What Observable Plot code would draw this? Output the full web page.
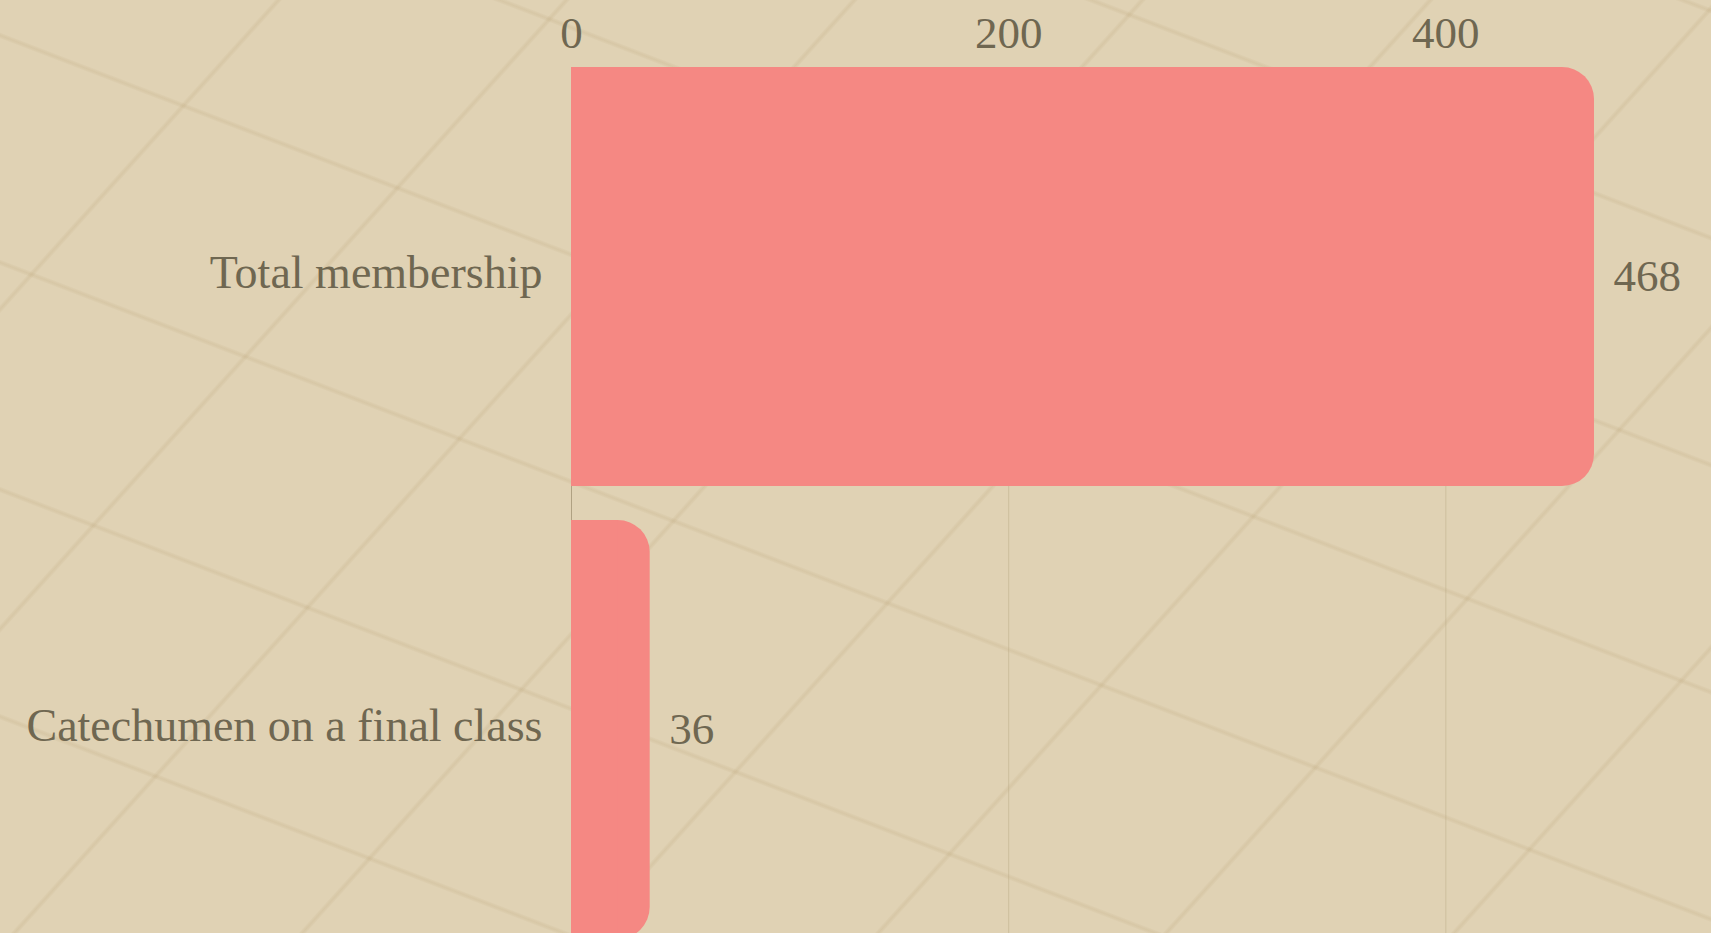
<!DOCTYPE html>
<html>
<head>
<meta charset="utf-8">
<script src="https://cdn.jsdelivr.net/npm/d3@7"></script>
<script src="https://cdn.jsdelivr.net/npm/@observablehq/plot@0.6"></script>
<style>
  html, body { margin: 0; padding: 0; overflow: hidden; }
  body {
    width: 1711px; height: 933px;
    background-color: #e0d2b4;
    background-image:
      repeating-linear-gradient(21deg, transparent 0px, transparent 199px, rgba(185,162,118,0.10) 200px, rgba(185,162,118,0.22) 202px, rgba(185,162,118,0.10) 204px, transparent 205px, transparent 212px),
      repeating-linear-gradient(132deg, transparent 0px, transparent 204px, rgba(185,162,118,0.10) 205px, rgba(185,162,118,0.22) 207px, rgba(185,162,118,0.10) 209px, transparent 210px, transparent 214px);
  }
  #chart svg { display: block; }
</style>
</head>
<body>
<div id="chart"></div>
<script>
const categories = ["Total membership", "Catechumen on a final class"];
const values = [468, 36];
const xTicks = [0, 200, 400];

const data = categories.map((c, i) => ({category: c, value: values[i]}));

const textColor = "#6f6751";
const barColor = "#f58883";

const chart = Plot.plot({
  width: 1711,
  height: 933,
  marginLeft: 571,
  marginRight: 117,
  marginTop: 67,
  marginBottom: -6,
  style: {
    background: "transparent",
    fontFamily: "'Liberation Serif', serif",
    fontSize: "46px",
    color: textColor
  },
  x: {domain: [0, 468], nice: false},
  y: {domain: categories, paddingInner: 0.076, paddingOuter: 0},
  marks: [
    Plot.gridX(xTicks, {stroke: "#b8a783", strokeOpacity: 0.45, strokeWidth: 1}),
    Plot.ruleX([0], {stroke: "#a99a7a", strokeOpacity: 0.8}),
    Plot.barX(data, {x: "value", y: "category", fill: barColor, rx: 32}),
    Plot.barX(data, {x: "value", y: "category", fill: barColor, insetRight: 32}),
    Plot.text(data, {x: "value", y: "category", text: d => String(d.value), textAnchor: "start", dx: 19, fill: textColor, fontSize: 45}),
    Plot.axisX(xTicks, {anchor: "top", tickSize: 0, tickPadding: 20, fontSize: 45, fill: textColor, label: null}),
    Plot.axisY({tickSize: 0, tickPadding: 29, fontSize: 46, fill: textColor, label: null, dy: -4})
  ]
});
document.getElementById("chart").appendChild(chart);
</script>
</body>
</html>
